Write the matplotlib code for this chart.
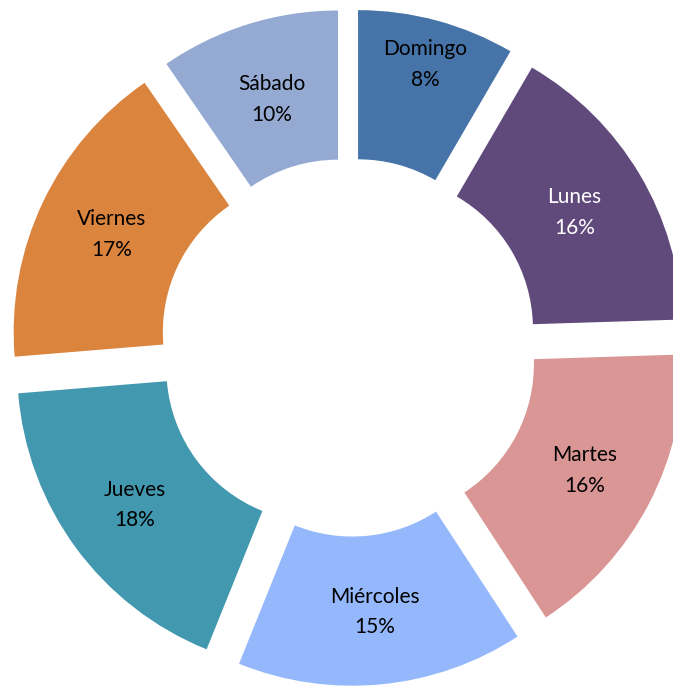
"""
Donut chart of visits per weekday (exploded slices, labels inside).
"""

import numpy as np
import matplotlib
matplotlib.use('Agg')
import matplotlib.pyplot as plt

# Data (percent share per weekday, clockwise from the top)
dias = ["Domingo", "Lunes", "Martes", "Miércoles", "Jueves", "Viernes", "Sábado"]
porcentajes = [8.4, 16.1, 16.3, 15.3, 17.6, 16.7, 9.6]

colores = ["#4674A9", "#604A7B", "#D99694", "#94B8FB", "#4298AF", "#DB843D", "#95AAD3"]
color_texto = ["black", "white", "black", "black", "black", "black", "black"]
# radial position of each label, as a fraction of the outer radius
dist_etiqueta = [0.85, 0.75, 0.76, 0.76, 0.76, 0.75, 0.74]

plt.rcParams['font.family'] = ['Lato', 'DejaVu Sans']

fig = plt.figure(figsize=(6.73, 6.86), dpi=100)
ax = fig.add_axes([0, 0, 1, 1])

wedges, _ = ax.pie(porcentajes, colors=colores, startangle=90, counterclock=False,
                   explode=[0.1186] * len(porcentajes), radius=1.0,
                   wedgeprops=dict(width=0.493, linewidth=0))

for w, nombre, val, col, rho in zip(wedges, dias, porcentajes, color_texto, dist_etiqueta):
    ang = np.deg2rad((w.theta1 + w.theta2) / 2)
    cx, cy = w.center
    ax.text(cx + rho * np.cos(ang), cy + rho * np.sin(ang), f"{nombre}\n{val:.0f}%",
            ha='center', va='center', fontsize=15, color=col, linespacing=1.68)

# pixel-matched limits (outer radius ~ 302.6 px, centre at 348.7, 347.4)
ax.set_xlim(-1.1523, 1.0717)
ax.set_ylim(-1.119, 1.148)
ax.set_aspect('auto')
ax.axis('off')

fig.savefig('out.png', dpi=100)
plt.close(fig)
